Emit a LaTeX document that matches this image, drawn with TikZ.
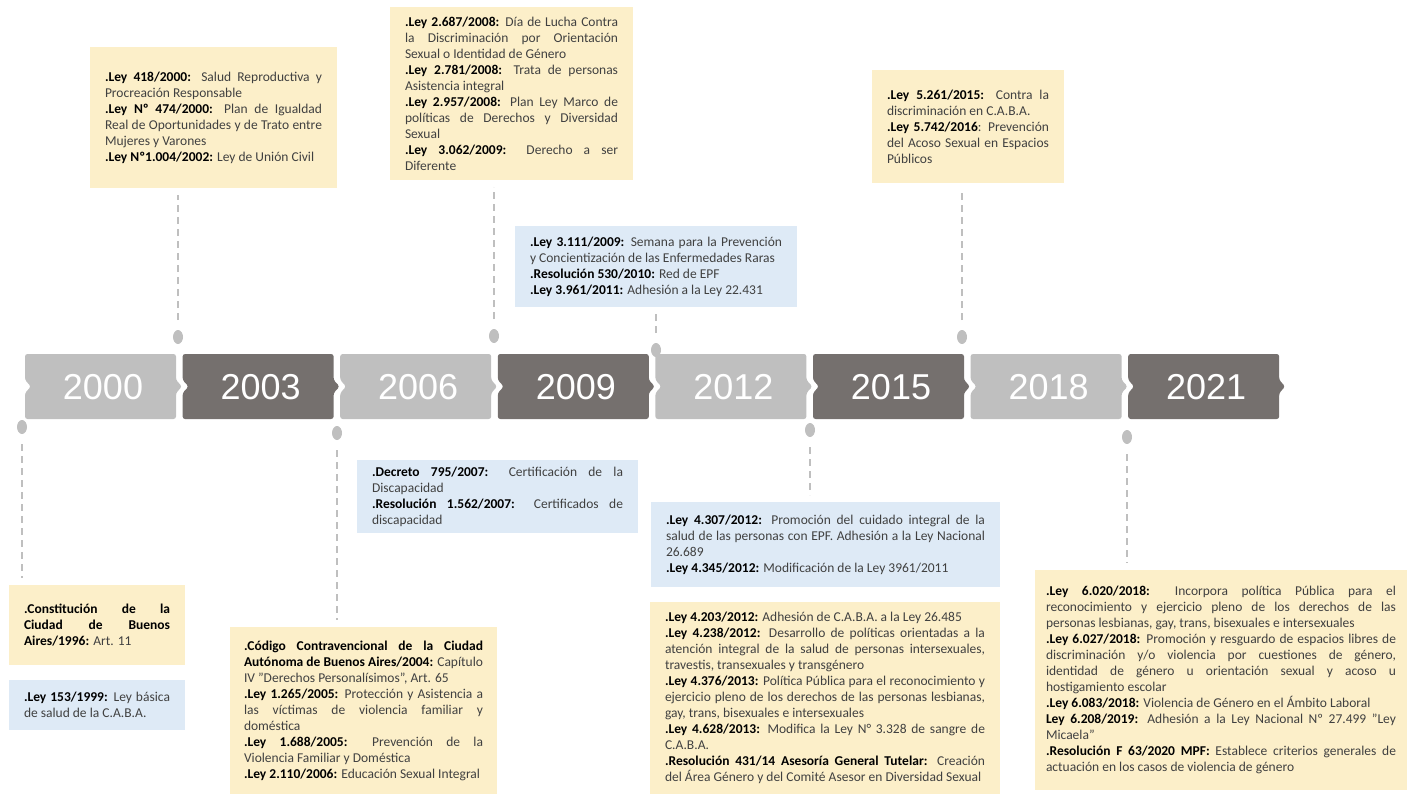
\documentclass[tikz,border=0pt]{standalone}
\usepackage{fontspec}
\setmainfont{Carlito}
\newfontfamily\yearfont{Liberation Sans}
\usetikzlibrary{shapes.geometric}

\definecolor{notecream}{RGB}{252,239,201}
\definecolor{notesky}{RGB}{222,234,246}
\definecolor{yearlight}{RGB}{191,191,191}
\definecolor{yeardark}{RGB}{117,112,110}
\definecolor{notetext}{RGB}{64,64,64}

\hyphenpenalty=10000
\exhyphenpenalty=10000

\newcommand{\law}[1]{\textbf{\color{black}#1}}
% one chevron of the time line
\newcommand{\yearbox}[4]{%
\fill[#2,rounded corners=2.5pt](#1,354)--++(151,0)--++(0,26)--++(6,6.5)--++(-6,6.5)--++(0,26)--++(-151,0)--++(0,-26)--++(6,-6.5)--++(-6,-6.5)--cycle;
\node[year](#3)at(#1+78,387){#4};}

\begin{document}
\begin{tikzpicture}[x=1pt,y=-1pt,
every node/.style={
outer sep=0pt,
},
note/.style={
anchor=north west,
align=justify,
inner xsep=15pt,
inner ysep=3pt,
text=notetext,
font=\fontsize{13.5}{16}\selectfont,
execute at begin node={\spaceskip=3.05pt plus 8pt minus 1.2pt\relax},
},
cream/.style={note,fill=notecream},
sky/.style={note,fill=notesky},
year/.style={text=white,font=\yearfont\fontsize{36}{40}\selectfont},
dot/.style={ellipse,fill=yearlight,minimum width=10pt,minimum height=14pt,inner sep=0pt},
link/.style={draw=yearlight,line width=2.5pt,dash pattern=on 7pt off 5pt,shorten <=10pt,shorten >=7pt}]

\useasboundingbox(0,0)rectangle(1407,794);

%time line
\yearbox{25}{yearlight}{y2000}{2000}
\yearbox{182.6}{yeardark}{y2003}{2003}
\yearbox{340.2}{yearlight}{y2006}{2006}
\yearbox{497.8}{yeardark}{y2009}{2009}
\yearbox{655.4}{yearlight}{y2012}{2012}
\yearbox{813}{yeardark}{y2015}{2015}
\yearbox{970.6}{yearlight}{y2018}{2018}
\yearbox{1128.2}{yeardark}{y2021}{2021}

%dots
\node[dot](dot2000)at(22,427){};
\node[dot](dot2003)at(178,337){};
\node[dot](dot2006)at(337,433){};
\node[dot](dot2009)at(494,336){};
\node[dot](dot2012)at(656,350){};
\node[dot](dot2015)at(810,430){};
\node[dot](dot2018)at(962,337){};
\node[dot](dot2021)at(1127,437){};

%notes above
\node[cream,text width=217pt,minimum height=141pt](ley2000)at(90,47){\law{.Ley 418/2000:} Salud Reproductiva y\linebreak Procreación Responsable\\\law{.Ley Nº 474/2000:} Plan de Igualdad\linebreak Real de Oportunidades y de Trato entre\linebreak Mujeres y Varones\\\law{.Ley Nº1.004/2002:} Ley de Unión Civil};
\node[cream,text width=213pt,minimum height=173pt](ley2008)at(390,7){\law{.Ley 2.687/2008:} Día de Lucha Contra\linebreak la Discriminación por Orientación\linebreak Sexual o Identidad de Género\\\law{.Ley 2.781/2008:} Trata de personas\linebreak Asistencia integral\\\law{.Ley 2.957/2008:} Plan Ley Marco de\linebreak políticas de Derechos y Diversidad\linebreak Sexual\\\law{.Ley 3.062/2009:} Derecho a ser\linebreak Diferente};
\node[sky,text width=252pt,minimum height=81pt](ley2009)at(515,226){\law{.Ley 3.111/2009:} Semana para la Prevención\linebreak y Concientización de las Enfermedades Raras\\\law{.Resolución 530/2010:} Red de EPF\\\law{.Ley 3.961/2011:} Adhesión a la Ley 22.431};
\node[cream,text width=162pt,minimum height=113pt](ley2015)at(872,70){\law{.Ley 5.261/2015:} Contra la\linebreak discriminación en C.A.B.A.\\\law{.Ley 5.742/2016}: Prevención\linebreak del Acoso Sexual en Espacios\linebreak Públicos};

%notes below
\node[cream,text width=146pt,minimum height=80pt](const1996)at(9,585){\law{.Constitución de la\linebreak Ciudad de Buenos\linebreak Aires/1996:} Art. 11};
\node[sky,text width=146pt,minimum height=50pt](ley1999)at(9,680){\law{.Ley 153/1999:} Ley básica\linebreak de salud de la C.A.B.A.};
\node[cream,text width=239pt,inner xsep=14pt,minimum height=167pt](codigo2004)at(230,627){\law{.Código Contravencional de la Ciudad\linebreak Autónoma de Buenos Aires/2004:} Capítulo\linebreak IV "Derechos Personalísimos", Art. 65\\\law{.Ley 1.265/2005:} Protección y Asistencia a\linebreak las víctimas de violencia familiar y\linebreak doméstica\\\law{.Ley 1.688/2005:} Prevención de la\linebreak Violencia Familiar y Doméstica\\\law{.Ley 2.110/2006:} Educación Sexual Integral};
\node[sky,text width=251pt,minimum height=73pt](decreto2007)at(357,460){\law{.Decreto 795/2007:} Certificación de la\linebreak Discapacidad\\\law{.Resolución 1.562/2007:} Certificados de\linebreak discapacidad};
\node[sky,text width=319pt,minimum height=85pt](ley2012)at(651,502){\law{.Ley 4.307/2012:} Promoción del cuidado integral de la\linebreak salud de las personas con EPF. Adhesión a la Ley Nacional\linebreak 26.689\\\law{.Ley 4.345/2012:} Modificación de la Ley 3961/2011};
\node[cream,text width=320pt,minimum height=192pt](ley2013)at(650,602){\law{.Ley 4.203/2012:} Adhesión de C.A.B.A. a la Ley 26.485\\\law{.Ley 4.238/2012:} Desarrollo de políticas orientadas a la\linebreak atención integral de la salud de personas intersexuales,\linebreak travestis, transexuales y transgénero\\\law{.Ley 4.376/2013:} Política Pública para el reconocimiento y\linebreak ejercicio pleno de los derechos de las personas lesbianas,\linebreak gay, trans, bisexuales e intersexuales\\\law{.Ley 4.628/2013:} Modifica la Ley N° 3.328 de sangre de\linebreak C.A.B.A.\\\law{.Resolución 431/14 Asesoría General Tutelar:} Creación\linebreak del Área Género y del Comité Asesor en Diversidad Sexual};
\node[cream,text width=350pt,inner xsep=11pt,minimum height=220pt](ley2018)at(1035,570){\law{.Ley 6.020/2018:} Incorpora política Pública para el\linebreak reconocimiento y ejercicio pleno de los derechos de las\linebreak personas lesbianas, gay, trans, bisexuales e intersexuales\\\law{.Ley 6.027/2018:} Promoción y resguardo de espacios libres de\linebreak discriminación y/o violencia por cuestiones de género,\linebreak identidad de género u orientación sexual y acoso u\linebreak hostigamiento escolar\\\law{.Ley 6.083/2018:} Violencia de Género en el Ámbito Laboral\\\law{Ley 6.208/2019:} Adhesión a la Ley Nacional Nº 27.499 ”Ley\linebreak Micaela”\\\law{.Resolución F 63/2020 MPF:} Establece criterios generales de\linebreak actuación en los casos de violencia de género};

%dashed links
\draw[link](dot2000)--(dot2000|-const1996.north);
\draw[link](dot2003)--(dot2003|-ley2000.south);
\draw[link](dot2006)--(dot2006|-codigo2004.north);
\draw[link](dot2009)--(dot2009|-ley2008.south);
\draw[link](dot2012)--(dot2012|-ley2009.south);
\draw[link](dot2015)--(dot2015|-ley2012.north);
\draw[link](dot2018)--(dot2018|-ley2015.south);
\draw[link](dot2021)--(dot2021|-ley2018.north);
\end{tikzpicture}
\end{document}
